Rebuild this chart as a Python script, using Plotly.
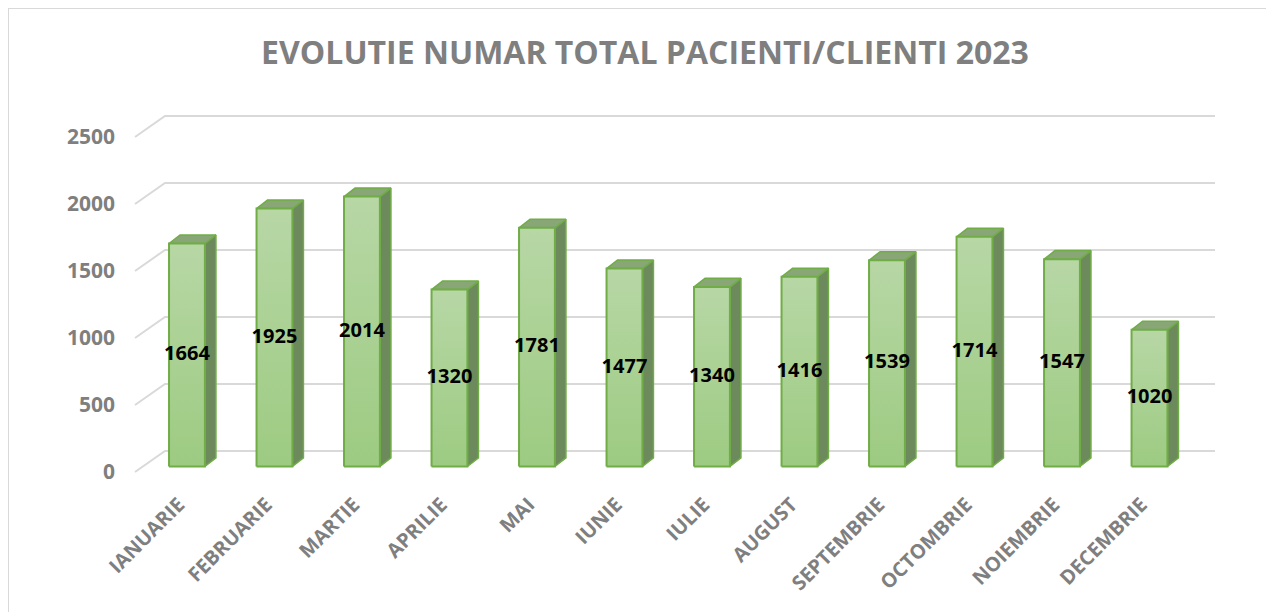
import plotly.graph_objects as go

# date
luni = ["IANUARIE", "FEBRUARIE", "MARTIE", "APRILIE", "MAI", "IUNIE",
        "IULIE", "AUGUST", "SEPTEMBRIE", "OCTOMBRIE", "NOIEMBRIE", "DECEMBRIE"]
pacienti = [1664, 1925, 2014, 1320, 1781, 1477, 1340, 1416, 1539, 1714, 1547, 1020]
y_ticks = [0, 500, 1000, 1500, 2000, 2500]

# culori
GRAY = "#7f7f7f"
GRID = "#d9d9d9"
EDGE = "#70ad47"
FRONT_TOP = "#b7d7a5"
FRONT_BOT = "#9dcb82"
SIDE = "#6d8a5d"
TOP = "#88a676"

# geometrie pseudo-3D (unitati de axa)
BAR_W = 0.41
BAR_SHIFT = 0.094
BASE = 41
DX, DY = 0.126, 64          # adancimea coloanei
WALL_DX, WALL_DY = 0.343, 157  # peretele din spate

fig = go.Figure()

# grila: perete lateral (diagonala) + perete din spate
gx, gy = [], []
for t in y_ticks:
    gx += [-0.5, -0.5 + WALL_DX, len(luni) - 0.5 + WALL_DX, None]
    gy += [t, t + WALL_DY, t + WALL_DY, None]
fig.add_trace(go.Scatter(x=gx, y=gy, mode="lines",
                         line=dict(color=GRID, width=2), hoverinfo="skip"))

sx, sy, tx, ty = [], [], [], []
for i, v in enumerate(pacienti):
    c = i + BAR_SHIFT
    xl, xr = c - BAR_W / 2, c + BAR_W / 2
    top = BASE + v
    sx += [xr, xr + DX, xr + DX, xr, xr, None]
    sy += [BASE, BASE + DY, top + DY, top, BASE, None]
    tx += [xl, xl + DX, xr + DX, xr, xl, None]
    ty += [top, top + DY, top + DY, top, top, None]

fig.add_trace(go.Scatter(x=sx, y=sy, mode="lines", fill="toself", fillcolor=SIDE,
                         line=dict(color=EDGE, width=1.5), hoverinfo="skip"))
fig.add_trace(go.Scatter(x=tx, y=ty, mode="lines", fill="toself", fillcolor=TOP,
                         line=dict(color=EDGE, width=1.5), hoverinfo="skip"))

for i, v in enumerate(pacienti):
    c = i + BAR_SHIFT
    xl, xr = c - BAR_W / 2, c + BAR_W / 2
    fig.add_trace(go.Scatter(
        x=[xl, xr, xr, xl, xl], y=[BASE, BASE, BASE + v, BASE + v, BASE],
        mode="lines", fill="toself",
        fillgradient=dict(type="vertical", colorscale=[[0, FRONT_BOT], [1, FRONT_TOP]]),
        line=dict(color=EDGE, width=2), hoverinfo="skip",
    ))

fig.add_trace(go.Scatter(
    x=[i + BAR_SHIFT for i in range(len(luni))],
    y=[BASE + v / 2 for v in pacienti],
    mode="text", text=[str(v) for v in pacienti],
    textfont=dict(family="Open Sans", size=20, color="black", weight="bold"),
    hoverinfo="skip",
))

fig.update_layout(
    width=1266, height=604,
    margin=dict(l=122, r=44, t=92, b=132),
    paper_bgcolor="white", plot_bgcolor="white",
    showlegend=False,
    title=dict(text="<b>EVOLUTIE NUMAR TOTAL PACIENTI/CLIENTI 2023</b>",
               x=637 / 1266, xanchor="center", y=1 - 45 / 604, yanchor="middle",
               font=dict(family="Open Sans", size=32, color=GRAY)),
    xaxis=dict(range=[-0.557, 12.014], tickvals=list(range(len(luni))), ticktext=luni,
               tickangle=-45, showgrid=False, zeroline=False, showline=False,
               ticks="", ticklabelstandoff=8,
               tickfont=dict(family="Open Sans", size=20, color=GRAY, weight="bold")),
    yaxis=dict(range=[-59.7, 2776], tickvals=y_ticks, ticktext=[str(t) for t in y_ticks],
               showgrid=False, zeroline=False, showline=False, ticks="",
               ticklabelstandoff=14,
               tickfont=dict(family="Open Sans", size=21, color=GRAY, weight="bold")),
    shapes=[dict(type="rect", xref="paper", yref="paper",
                 x0=-0.1109, y0=1.2421, x1=1.3, y1=-0.5,
                 line=dict(color=GRID, width=2), layer="below")],
)

fig.write_html("out.html")
